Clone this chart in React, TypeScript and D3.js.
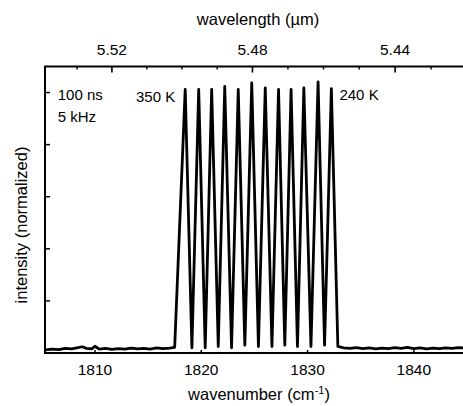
import { useRef, useEffect } from 'react';
import * as d3 from 'd3';

// spectrum trace (wavenumber in cm^-1, normalized intensity)
const wavenumbers = [
  1805.3, 1806.0, 1806.6, 1807.2, 1807.8, 1808.3, 1808.8, 1809.2, 1809.7, 1810.0,
  1810.4, 1811.0, 1811.6, 1812.2, 1812.8, 1813.4, 1814.0, 1814.6, 1815.2, 1815.8,
  1816.4, 1817.0, 1817.5,
  1818.49, 1819.12, 1819.76, 1820.37, 1820.98, 1821.6, 1822.21, 1822.85, 1823.48, 1824.1,
  1824.75, 1825.38, 1826.02, 1826.65, 1827.27, 1827.86, 1828.45, 1829.05, 1829.65, 1830.32,
  1830.99, 1831.6, 1832.24, 1832.85,
  1833.4, 1834.0, 1834.6, 1835.2, 1835.8, 1836.4, 1837.0, 1837.6, 1838.2, 1838.8,
  1839.4, 1840.0, 1840.6, 1841.2, 1841.8, 1842.4, 1843.0, 1843.6, 1844.2, 1845.0,
];
const intensities = [
  0.012, 0.015, 0.013, 0.018, 0.016, 0.020, 0.024, 0.018, 0.016, 0.026,
  0.015, 0.018, 0.014, 0.017, 0.015, 0.019, 0.016, 0.018, 0.015, 0.020,
  0.017, 0.019, 0.022,
  1.012, 0.020, 1.012, 0.020, 1.012, 0.025, 1.024, 0.020, 1.012, 0.030,
  1.037, 0.025, 1.018, 0.025, 1.012, 0.030, 1.012, 0.025, 1.018, 0.025,
  1.041, 0.030, 1.015, 0.025,
  0.020, 0.018, 0.021, 0.017, 0.020, 0.016, 0.019, 0.017, 0.021, 0.018,
  0.022, 0.017, 0.020, 0.016, 0.019, 0.017, 0.020, 0.018, 0.021, 0.019,
];

const bottomTicks = [1810, 1820, 1830, 1840];
const topMajorTicks = [5.52, 5.48, 5.44];
const topMinorTicks = [5.53, 5.51, 5.50, 5.49, 5.47, 5.46, 5.45, 5.43];
const leftTicks = [0.2, 0.4, 0.6, 0.8, 1.0];

// annotations: [text, wavenumber, intensity, anchor]
const notes: [string, number, number, string][] = [
  ['100 ns', 1806.5, 0.97, 'start'],
  ['5 kHz', 1806.5, 0.888, 'start'],
  ['350 K', 1817.55, 0.965, 'end'],
  ['240 K', 1833.0, 0.97, 'start'],
];

const W = 463;
const H = 406;
const FONT = '"Liberation Sans", Arial, Helvetica, sans-serif';

export default function App() {
  const svgRef = useRef<SVGSVGElement | null>(null);

  useEffect(() => {
    const svg = d3.select(svgRef.current);
    svg.selectAll('*').remove();

    const margin = { top: 66.5, right: -4, bottom: 53, left: 45 };
    const innerWidth = W - margin.left - margin.right;
    const innerHeight = H - margin.top - margin.bottom;

    const x = d3.scaleLinear().domain([1805.3, 1845]).range([0, innerWidth]);
    const y = d3.scaleLinear().domain([0, 1.1]).range([innerHeight, 0]);
    // wavelength (um) on the top axis
    const xw = (lam: number) => x(10000 / lam);

    const g = svg.append('g').attr('transform', `translate(${margin.left},${margin.top})`);

    // trace
    const pts = wavenumbers.map((w, i) => [w, intensities[i]] as [number, number]);
    const line = d3.line<[number, number]>().x(d => x(d[0])).y(d => y(d[1]));
    g.append('path')
      .attr('d', line(pts))
      .attr('fill', 'none')
      .attr('stroke', '#000')
      .attr('stroke-width', 2.8)
      .attr('stroke-linejoin', 'round');

    // frame: left, top, bottom
    const axisStroke = 2;
    g.append('line').attr('x1', 0).attr('x2', 0).attr('y1', 0).attr('y2', innerHeight)
      .attr('stroke', '#000').attr('stroke-width', axisStroke);
    g.append('line').attr('x1', -1).attr('x2', innerWidth).attr('y1', 0).attr('y2', 0)
      .attr('stroke', '#000').attr('stroke-width', axisStroke);
    g.append('line').attr('x1', -1).attr('x2', innerWidth).attr('y1', innerHeight).attr('y2', innerHeight)
      .attr('stroke', '#000').attr('stroke-width', axisStroke);

    // left ticks (inward)
    leftTicks.forEach(v => {
      g.append('line').attr('x1', 0).attr('x2', 5).attr('y1', y(v)).attr('y2', y(v))
        .attr('stroke', '#000').attr('stroke-width', 1.5);
    });

    // bottom ticks and labels
    bottomTicks.forEach(v => {
      g.append('line').attr('x1', x(v)).attr('x2', x(v)).attr('y1', innerHeight).attr('y2', innerHeight - 3)
        .attr('stroke', '#000').attr('stroke-width', 1.5);
      g.append('text')
        .attr('x', x(v)).attr('y', innerHeight + 22)
        .attr('text-anchor', 'middle')
        .style('font-family', FONT).style('font-size', '15.5px')
        .text(v);
    });

    // top ticks and labels
    topMajorTicks.forEach(v => {
      g.append('line').attr('x1', xw(v)).attr('x2', xw(v)).attr('y1', 0).attr('y2', 6)
        .attr('stroke', '#000').attr('stroke-width', 1.6);
      g.append('text')
        .attr('x', xw(v)).attr('y', -12)
        .attr('text-anchor', 'middle')
        .style('font-family', FONT).style('font-size', '15.5px')
        .text(v.toFixed(2));
    });
    topMinorTicks.forEach(v => {
      g.append('line').attr('x1', xw(v)).attr('x2', xw(v)).attr('y1', 0).attr('y2', 3)
        .attr('stroke', '#000').attr('stroke-width', 1.4);
    });

    // annotations
    notes.forEach(([t, w, v, anchor]) => {
      g.append('text')
        .attr('x', x(w)).attr('y', y(v))
        .attr('text-anchor', anchor)
        .style('font-family', FONT).style('font-size', '15px')
        .text(t);
    });

    // axis titles
    svg.append('text')
      .attr('x', 258).attr('y', 25)
      .attr('text-anchor', 'middle')
      .style('font-family', FONT).style('font-size', '16.5px')
      .text('wavelength (\u00b5m)');

    const bt = svg.append('text')
      .attr('x', 259).attr('y', 400)
      .attr('text-anchor', 'middle')
      .style('font-family', FONT).style('font-size', '16.5px');
    bt.append('tspan').text('wavenumber (cm');
    bt.append('tspan').attr('dy', -6).style('font-size', '11px').text('-1');
    bt.append('tspan').attr('dy', 6).text(')');

    svg.append('text')
      .attr('transform', `translate(27,${225}) rotate(-90)`)
      .attr('text-anchor', 'middle')
      .style('font-family', FONT).style('font-size', '16.5px')
      .text('intensity (normalized)');
  }, []);

  return (
    <svg
      ref={svgRef}
      width={W}
      height={H}
      style={{ position: 'absolute', left: 0, top: 0, background: '#fff' }}
    />
  );
}
